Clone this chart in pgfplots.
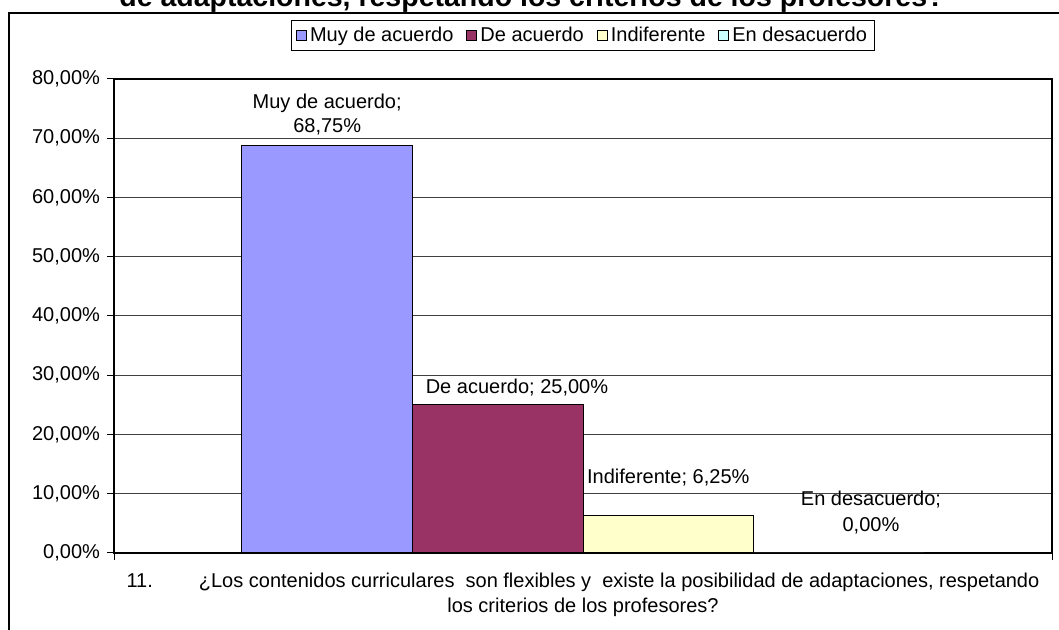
\documentclass[border=0pt]{standalone}
\usepackage{fontspec}
\setmainfont{Liberation Sans}
\usepackage{pgfplots}
\pgfplotsset{compat=1.18}
\definecolor{cMuy}{HTML}{9999FF}
\definecolor{cDe}{HTML}{993366}
\definecolor{cInd}{HTML}{FFFFCC}
\definecolor{cEn}{HTML}{CCFFFF}
\newcommand{\lbl}{\fontsize{10}{12}\selectfont}
\begin{document}
\begin{tikzpicture}
\useasboundingbox (0,0) rectangle (529.5pt,315pt);
\clip (0,0) rectangle (529.5pt,315pt);
% outer chart frame (extends past the cropped image)
\draw[line width=1pt] (4.5pt,-20pt) -- (4.5pt,308.5pt) -- (560pt,308.5pt);
% title (partly cut off at the top, as in the reference)
\node[anchor=base, inner sep=0pt, font=\fontsize{14.25}{17}\selectfont\bfseries] at (266pt,311.5pt) {de adaptaciones, respetando los criterios de los profesores?};
\begin{axis}[
  at={(57pt,38.5pt)}, anchor=south west,
  scale only axis, width=469pt, height=237pt,
  xmin=-0.5, xmax=0.5, ymin=0, ymax=80,
  ytick={0,10,...,80},
  xtick={-0.5,0.5}, xticklabels={},
  tick pos=left, tick align=outside, major tick length=3.5pt,
  ymajorgrids, grid style={black!75, line width=0.5pt},
  axis line style={line width=0.75pt},
  tick style={black, line width=0.5pt},
  /pgf/number format/assume math mode=true,
  yticklabel={\pgfmathprintnumber[fixed,fixed zerofill,precision=2,use comma]{\tick}\%},
  ticklabel style={font=\lbl},
  clip=false,
  legend columns=4,
  legend style={at={(axis description cs:0.5,1)}, anchor=south, yshift=14pt,
    draw=black, line width=0.5pt, inner xsep=2.5pt, inner ysep=0.5pt,
    font=\lbl, nodes={inner xsep=1.5pt, inner ysep=2.5pt},
    /tikz/every even column/.append style={column sep=5pt}},
  legend image code/.code={\draw[#1, line width=0.5pt] (0pt,-2.5pt) rectangle (5pt,2.5pt);},
]
\addplot[ybar, bar width=0.18182, bar shift=0, fill=cMuy, draw=black, line width=0.5pt] coordinates {(-0.27273,68.75)};
\addlegendentry{Muy de acuerdo}
\addplot[ybar, bar width=0.18182, bar shift=0, fill=cDe, draw=black, line width=0.5pt] coordinates {(-0.09091,25.00)};
\addlegendentry{De acuerdo}
\addplot[ybar, bar width=0.18182, bar shift=0, fill=cInd, draw=black, line width=0.5pt] coordinates {(0.09091,6.25)};
\addlegendentry{Indiferente}
\addplot[ybar, bar width=0.18182, bar shift=0, fill=cEn, draw=black, line width=0.5pt] coordinates {(0.27273,0.00)};
\addlegendentry{En desacuerdo}
% data labels
\node[anchor=base, font=\lbl, inner sep=0pt] at (axis cs:-0.27273,75.1) {Muy de acuerdo;};
\node[anchor=base, font=\lbl, inner sep=0pt] at (axis cs:-0.27273,70.89) {68,75\%};
\node[anchor=base, font=\lbl, inner sep=0pt] at (axis cs:-0.0704,27.0) {De acuerdo; 25,00\%};
\node[anchor=base, font=\lbl, inner sep=0pt] at (axis cs:0.09091,11.73) {Indiferente; 6,25\%};
\node[anchor=base, font=\lbl, inner sep=0pt] at (axis cs:0.307,8.0) {En desacuerdo;};
\node[anchor=base, font=\lbl, inner sep=0pt] at (axis cs:0.307,3.71) {0,00\%};
% category label
\node[anchor=base, font=\lbl, inner sep=0pt] at (axis cs:0,-5.74) {11.\hspace{23pt}¿Los contenidos curriculares\ \ son flexibles y\ \ existe la posibilidad de adaptaciones, respetando};
\node[anchor=base, font=\lbl, inner sep=0pt] at (axis cs:0,-9.96) {los criterios de los profesores?};
\end{axis}
\end{tikzpicture}
\end{document}
